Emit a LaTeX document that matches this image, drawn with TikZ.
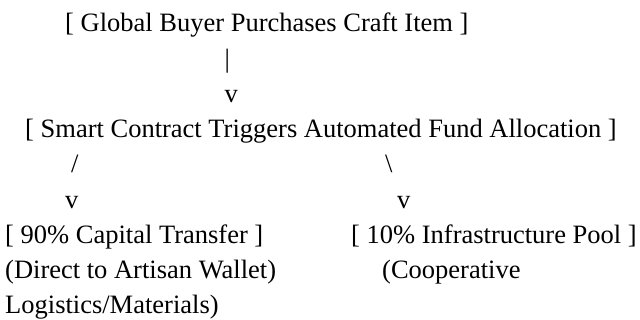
\documentclass[tikz,border=0pt]{standalone}
\usepackage{fontspec}
\setmainfont{Liberation Serif}
\usepackage{tikz}

\tikzset{
  txt/.style={anchor=base west, inner sep=0pt, font=\fontsize{26.5}{30}\selectfont}
}

\begin{document}
\begin{tikzpicture}[x=1pt,y=-1pt]
  \useasboundingbox (0,0) rectangle (640,320);

  % Purchase step
  \node[txt] (buyer) at (65,32) {[ Global Buyer Purchases Craft Item ]};
  \node[txt] (bar) at (224.5,67.5) {|};
  \node[txt] (arrA) at (224.5,102.6) {v};

  % Contract split
  \node[txt] (contract) at (25,138) {[ Smart Contract Triggers Automated Fund Allocation ]};
  \node[txt] (slashL) at (71,173) {/};
  \node[txt] (slashR) at (385,173) {\textbackslash};
  \node[txt] (arrL) at (65,208.5) {v};
  \node[txt] (arrR) at (397,208.5) {v};

  % Capital share
  \node[txt] (capital) at (5,244) {[ 90\% Capital Transfer ]};
  \node[txt] (capnote) at (5,279) {(Direct to Artisan Wallet)};
  \node[txt] (capwrap) at (5,314) {Logistics/Materials)};

  % Infrastructure share
  \node[txt] (pool) at (351,244) {[ 10\% Infrastructure Pool ]};
  \node[txt] (poolnote) at (382,279) {(Cooperative};
\end{tikzpicture}
\end{document}
